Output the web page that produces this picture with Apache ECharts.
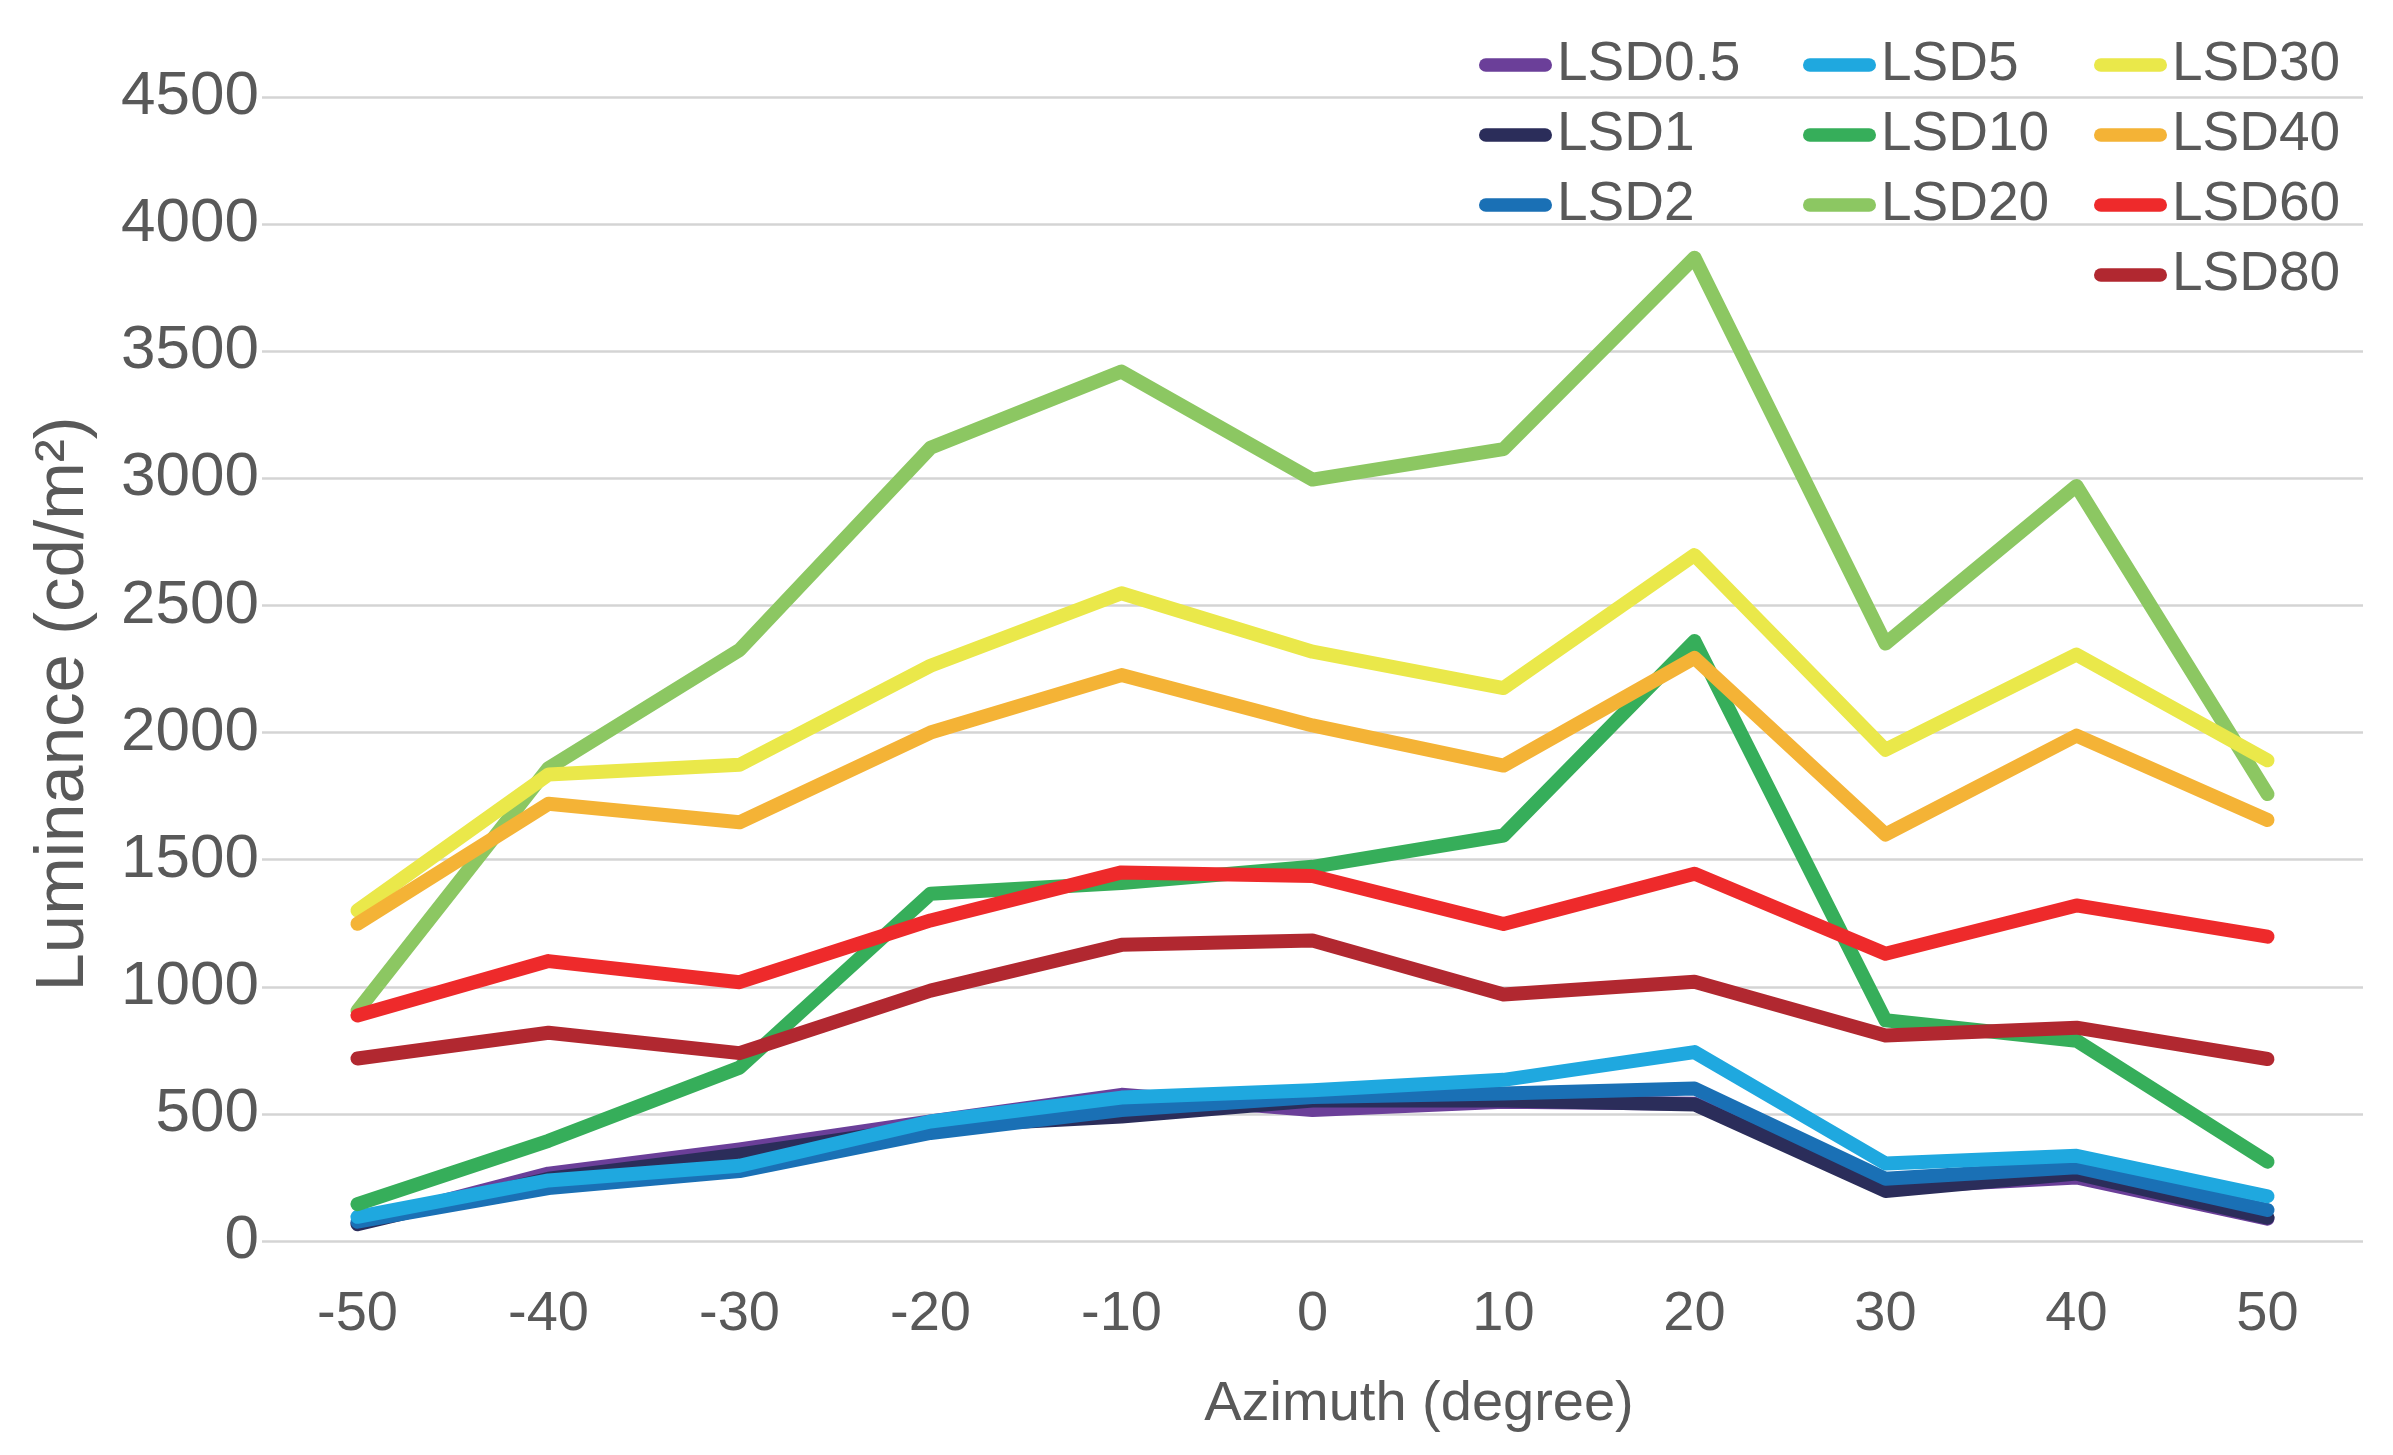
<!DOCTYPE html>
<html>
<head>
<meta charset="utf-8">
<script src="https://cdn.jsdelivr.net/npm/echarts@6/dist/echarts.min.js"></script>
<style>
html,body{margin:0;padding:0;background:#fff;}
#chart{width:2393px;height:1455px;}
</style>
</head>
<body>
<div id="chart"></div>
<script>
const categories = ['-50','-40','-30','-20','-10','0','10','20','30','40','50'];
const yTicks = [0, 500, 1000, 1500, 2000, 2500, 3000, 3500, 4000, 4500];

const LSD0_5 = [70, 265, 360, 470, 575, 515, 548, 540, 210, 250, 88];
const LSD1   = [66, 245, 340, 450, 490, 553, 553, 537, 197, 265, 92];
const LSD2   = [76, 208, 275, 425, 515, 566, 580, 600, 245, 290, 122];
const LSD5   = [95, 238, 296, 470, 564, 593, 634, 743, 305, 335, 176];
const LSD10  = [145, 394, 682, 1366, 1408, 1472, 1595, 2360, 868, 788, 312];
const LSD20  = [905, 1860, 2325, 3120, 3420, 2995, 3115, 3868, 2350, 2970, 1758];
const LSD30  = [1300, 1835, 1873, 2263, 2548, 2318, 2175, 2698, 1932, 2307, 1891];
const LSD40  = [1248, 1720, 1647, 2000, 2226, 2028, 1870, 2294, 1599, 1988, 1656];
const LSD60  = [887, 1101, 1018, 1261, 1450, 1436, 1247, 1445, 1130, 1320, 1197];
const LSD80  = [718, 819, 739, 985, 1165, 1182, 970, 1020, 808, 839, 716];

const seriesNames = ['LSD0.5','LSD1','LSD2','LSD5','LSD10','LSD20','LSD30','LSD40','LSD60','LSD80'];
const seriesData = [LSD0_5, LSD1, LSD2, LSD5, LSD10, LSD20, LSD30, LSD40, LSD60, LSD80];
const seriesColors = ['#6b3f99','#2b2d5a','#1a70b5','#1fa8df','#36ae5a','#8cc762','#eae84a','#f4b336','#ee2a2b','#b12830'];

const legendCols = [
  ['LSD0.5','LSD1','LSD2'],
  ['LSD5','LSD10','LSD20'],
  ['LSD30','LSD40','LSD60','LSD80']
];
const legendLefts = [1479, 1803, 2094];

const FONT = '"Liberation Sans", Arial, Helvetica, sans-serif';
const TXT = '#595959';
const pill = 'path://M7,0 L68,0 A7,7 0 0 1 68,14 L7,14 A7,7 0 0 1 7,0 Z';

const chart = echarts.init(document.getElementById('chart'), null, {renderer:'canvas'});

const option = {
  animation: false,
  backgroundColor: '#ffffff',
  textStyle: { fontFamily: FONT },
  grid: { left: 262, right: 30, top: 97, bottom: 214, containLabel: false },
  legend: legendCols.map((cols, i) => ({
    data: cols,
    orient: 'vertical',
    left: legendLefts[i],
    top: 37,
    padding: 0,
    itemGap: 14,
    itemWidth: 73,
    itemHeight: 14,
    icon: pill,
    selectedMode: false,
    textStyle: { fontFamily: FONT, fontSize: 55, color: TXT, lineHeight: 56 }
  })),
  xAxis: {
    type: 'category',
    data: categories,
    boundaryGap: true,
    axisLine: { show: false },
    axisTick: { show: false },
    axisLabel: { fontFamily: FONT, fontSize: 56, color: TXT, margin: 46 },
    name: 'Azimuth (degree)',
    nameLocation: 'middle',
    nameGap: 136,
    nameTextStyle: { fontFamily: FONT, fontSize: 56, color: TXT, padding: [0, 0, 0, 213] }
  },
  yAxis: {
    type: 'value',
    min: yTicks[0],
    max: yTicks[yTicks.length - 1],
    interval: 500,
    axisLine: { show: false },
    axisTick: { show: false },
    axisLabel: { fontFamily: FONT, fontSize: 62, color: TXT, margin: 3, padding: [0, 0, 10, 0],
                 formatter: function (v) { return String(v); } },
    splitLine: { show: true, lineStyle: { color: '#d4d4d4', width: 2.5 } },
    name: 'Luminance (cd/m²)',
    nameLocation: 'middle',
    nameRotate: 90,
    nameGap: 164,
    nameTextStyle: { fontFamily: FONT, fontSize: 69, color: TXT, padding: [0, 70, 0, 0] }
  },
  series: seriesNames.map((n, i) => ({
    name: n,
    type: 'line',
    data: seriesData[i],
    showSymbol: false,
    symbol: 'none',
    color: seriesColors[i],
    lineStyle: { width: 14, color: seriesColors[i], cap: 'round', join: 'round' },
    emphasis: { disabled: true }
  }))
};
chart.setOption(option);
</script>
</body>
</html>
